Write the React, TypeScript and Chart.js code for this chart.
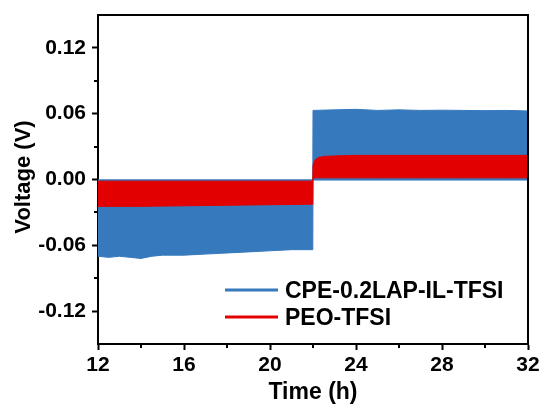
import React, { useEffect, useRef } from "react";
import { Chart, registerables } from "chart.js";

Chart.register(...registerables);

// ---- data (envelope of the oscillating voltage) ----
const blueTimes = [12, 12.5, 13, 13.5, 14, 14.5, 15, 16, 17, 18, 19, 20, 21, 21.99, 22, 23, 24, 25, 26, 27, 28, 29, 30, 31, 32];
const blueLow = [-0.070, -0.071, -0.070, -0.071, -0.072, -0.070, -0.069, -0.069, -0.068, -0.067, -0.066, -0.065, -0.064, -0.064, -0.0005, -0.0005, -0.0005, -0.0005, -0.0005, -0.0005, -0.0005, -0.0005, -0.0005, -0.0005, -0.0005];
const blueHigh = [-0.0003, -0.0003, -0.0003, -0.0003, -0.0003, -0.0003, -0.0003, -0.0003, -0.0003, -0.0003, -0.0003, -0.0003, -0.0003, -0.0003, 0.063, 0.0635, 0.064, 0.063, 0.0635, 0.063, 0.0632, 0.063, 0.0628, 0.063, 0.0625];

const redTimes = [12, 14, 16, 18, 20, 21.99, 22, 22.1, 22.25, 22.5, 23, 24, 26, 28, 30, 32];
const redLow = [-0.0245, -0.0245, -0.024, -0.0235, -0.023, -0.0225, 0.0015, 0.0015, 0.0015, 0.0015, 0.0015, 0.0015, 0.0015, 0.0015, 0.0015, 0.0015];
const redHigh = [-0.0015, -0.0015, -0.0015, -0.0015, -0.0015, -0.0015, 0.013, 0.018, 0.020, 0.021, 0.0215, 0.022, 0.022, 0.022, 0.022, 0.022];

const xMajorTicks = [12, 16, 20, 24, 28, 32];
const xMinorTicks = [14, 18, 22, 26, 30];
const yMajorTicks = [-0.12, -0.06, 0, 0.06, 0.12];
const yMinorTicks = [-0.09, -0.03, 0.03, 0.09];

const seriesNames = ["CPE-0.2LAP-IL-TFSI", "PEO-TFSI"];
const BLUE = "#3679BD";
const RED = "#E30000";
const FONT = "'Liberation Sans', Arial, sans-serif";

const toPts = (xs: number[], ys: number[]) => xs.map((x, i) => ({ x, y: ys[i] }));

const decorPlugin = {
  id: "decor",
  afterDraw(chart: any) {
    const { ctx, chartArea } = chart;
    const xs = chart.scales.x;
    const ys = chart.scales.y;
    ctx.save();
    // frame (top & right)
    ctx.strokeStyle = "#000";
    ctx.lineWidth = 2;
    ctx.beginPath();
    ctx.moveTo(chartArea.left - 1, chartArea.top);
    ctx.lineTo(chartArea.right, chartArea.top);
    ctx.lineTo(chartArea.right, chartArea.bottom);
    ctx.stroke();
    // minor ticks
    ctx.beginPath();
    xMinorTicks.forEach((v) => {
      const px = Math.round(xs.getPixelForValue(v));
      ctx.moveTo(px, chartArea.bottom);
      ctx.lineTo(px, chartArea.bottom + 4);
    });
    yMinorTicks.forEach((v) => {
      const py = Math.round(ys.getPixelForValue(v));
      ctx.moveTo(chartArea.left, py);
      ctx.lineTo(chartArea.left - 4, py);
    });
    ctx.stroke();
    // y title
    ctx.fillStyle = "#000";
    ctx.font = `bold 22px ${FONT}`;
    ctx.textAlign = "center";
    ctx.textBaseline = "middle";
    ctx.translate(24, 177);
    ctx.rotate(-Math.PI / 2);
    ctx.fillText("Voltage (V)", 0, 0);
    ctx.restore();

    // legend
    ctx.save();
    const items = [
      { name: seriesNames[0], color: BLUE, y: 290 },
      { name: seriesNames[1], color: RED, y: 317 },
    ];
    ctx.font = `bold 23px ${FONT}`;
    ctx.textAlign = "left";
    ctx.textBaseline = "middle";
    items.forEach((it) => {
      ctx.strokeStyle = it.color;
      ctx.lineWidth = 3;
      ctx.beginPath();
      ctx.moveTo(225, it.y);
      ctx.lineTo(278, it.y);
      ctx.stroke();
      ctx.fillStyle = "#000";
      ctx.fillText(it.name, 285, it.y + 2);
    });
    ctx.restore();
  },
};

export default function App() {
  const ref = useRef<HTMLCanvasElement | null>(null);
  useEffect(() => {
    if (!ref.current) return;
    const chart = new Chart(ref.current, {
      type: "line",
      data: {
        datasets: [
          { label: "redLow", data: toPts(redTimes, redLow), borderColor: RED, backgroundColor: RED, borderWidth: 1, pointRadius: 0, fill: false, order: 0 },
          { label: "redHigh", data: toPts(redTimes, redHigh), borderColor: RED, backgroundColor: RED, borderWidth: 1, pointRadius: 0, fill: "-1", order: 0 },
          { label: "blueLow", data: toPts(blueTimes, blueLow), borderColor: BLUE, backgroundColor: BLUE, borderWidth: 1, pointRadius: 0, fill: false, order: 1 },
          { label: "blueHigh", data: toPts(blueTimes, blueHigh), borderColor: BLUE, backgroundColor: BLUE, borderWidth: 1, pointRadius: 0, fill: "-1", order: 1 },
        ],
      },
      options: {
        animation: false,
        responsive: true,
        maintainAspectRatio: false,
        layout: { padding: { top: 15, right: 16, left: 0, bottom: 0 } },
        plugins: { legend: { display: false }, tooltip: { enabled: false } },
        scales: {
          x: {
            type: "linear",
            min: 12,
            max: 32,
            afterBuildTicks: (s: any) => { s.ticks = xMajorTicks.map((v) => ({ value: v })); },
            afterFit: (s: any) => { s.height = 62; s.paddingLeft = 0; s.paddingRight = 0; },
            ticks: { font: { family: FONT, size: 21, weight: "bold" }, color: "#000", padding: 3, maxRotation: 0, autoSkip: false, callback: (v: any) => String(v) },
            grid: { drawOnChartArea: false, drawTicks: true, tickLength: 6, tickWidth: 2, tickColor: "#000" },
            border: { color: "#000", width: 2 },
            title: { display: true, text: "Time (h)", font: { family: FONT, size: 23, weight: "bold" }, color: "#000", padding: { top: 0, bottom: 0 } },
          },
          y: {
            type: "linear",
            min: -0.15,
            max: 0.15,
            afterBuildTicks: (s: any) => { s.ticks = yMajorTicks.map((v) => ({ value: v })); },
            afterFit: (s: any) => { s.width = 98; s.paddingTop = 0; s.paddingBottom = 0; },
            ticks: { font: { family: FONT, size: 21, weight: "bold" }, color: "#000", padding: 6, autoSkip: false, callback: (v: any) => Number(v).toFixed(2) },
            grid: { drawOnChartArea: false, drawTicks: true, tickLength: 6, tickWidth: 2, tickColor: "#000" },
            border: { color: "#000", width: 2 },
          },
        },
        elements: { line: { tension: 0 } },
      },
      plugins: [decorPlugin],
    });
    return () => chart.destroy();
  }, []);
  return (
    <div style={{ position: "fixed", left: 0, top: 0, width: 544, height: 406, background: "#fff" }}>
      <canvas ref={ref} />
    </div>
  );
}
